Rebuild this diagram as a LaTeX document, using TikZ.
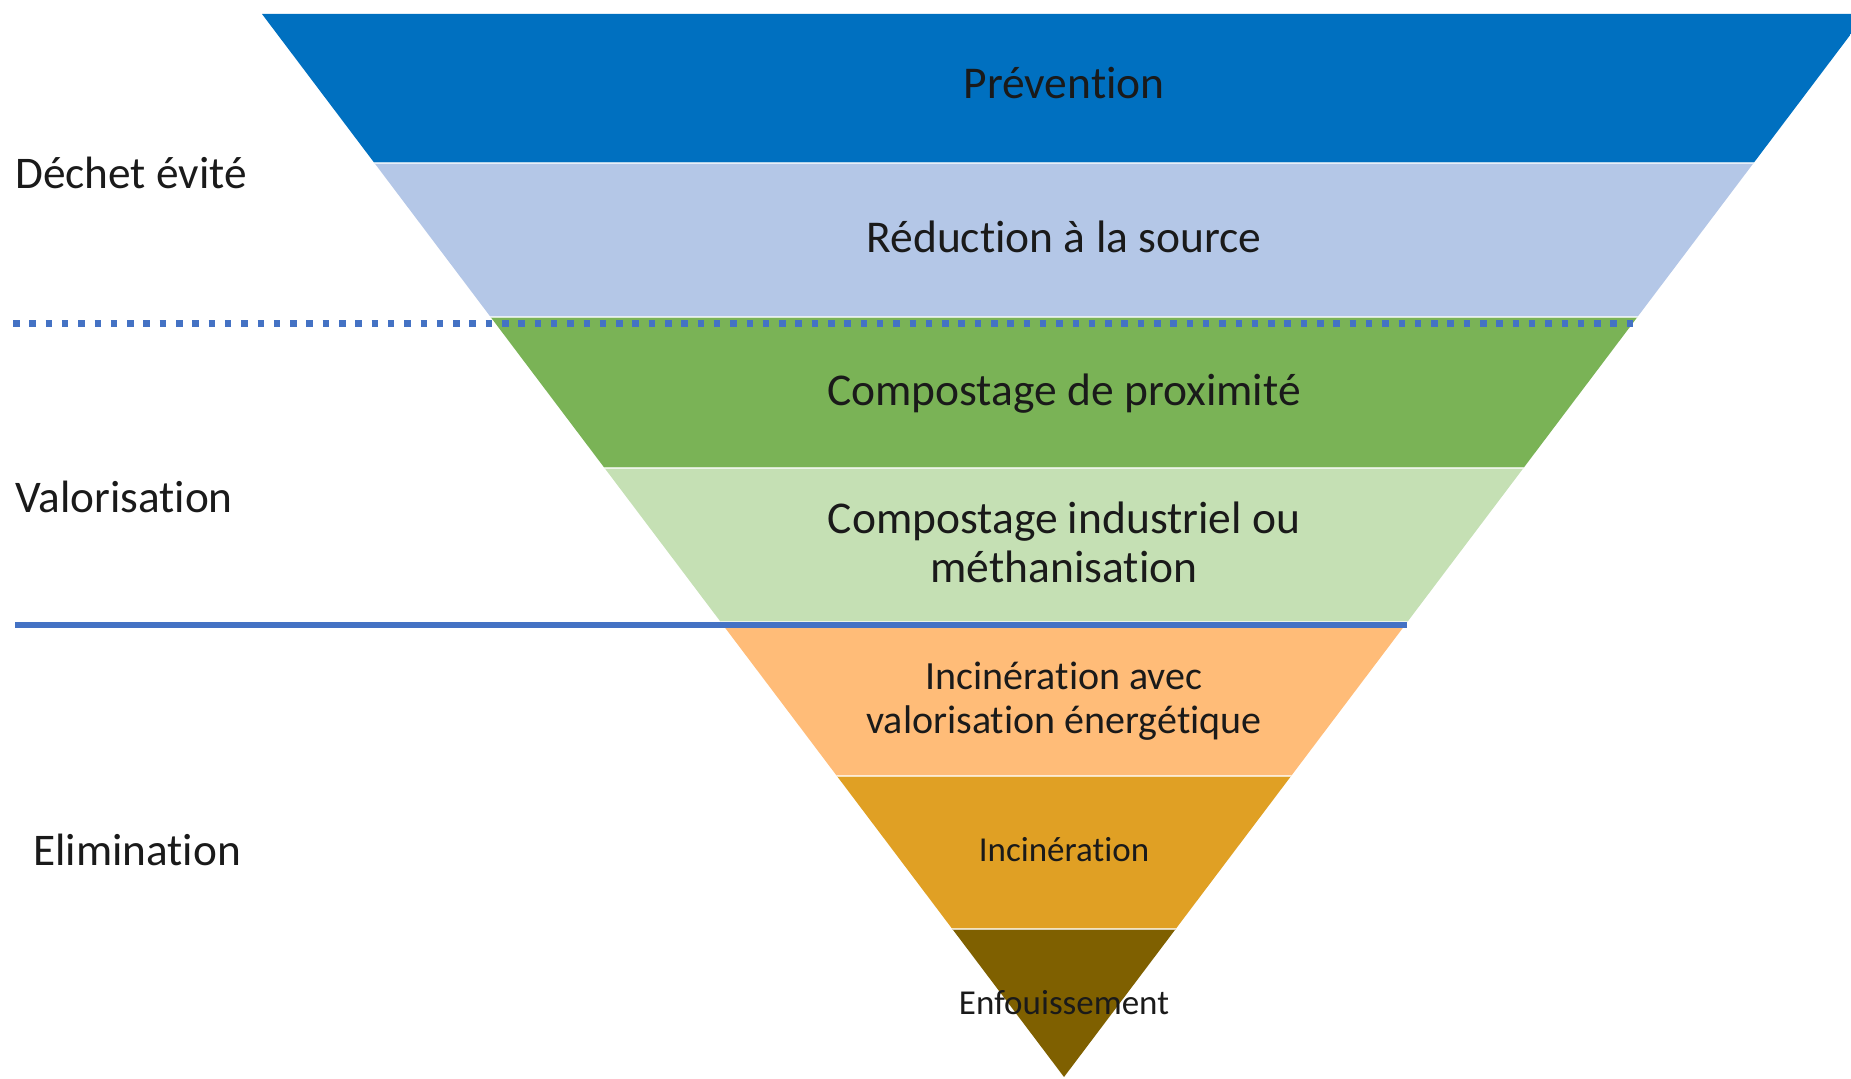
\documentclass[tikz,border=0pt]{standalone}
\usepackage{fontspec}
\setmainfont{Carlito}[Ligatures={NoCommon}]
\definecolor{cPrev}{HTML}{0070C0}
\definecolor{cRed}{HTML}{B4C7E7}
\definecolor{cComp}{HTML}{7AB356}
\definecolor{cInd}{HTML}{C5E0B4}
\definecolor{cIncV}{HTML}{FFBC78}
\definecolor{cInc}{HTML}{E0A024}
\definecolor{cEnf}{HTML}{7F6000}
\definecolor{cLine}{HTML}{4472C4}
\definecolor{cTxt}{HTML}{1A1A1A}
\tikzset{
  bandtxt/.style={anchor=base,text=cTxt,inner sep=0pt,align=center},
  sidetxt/.style={anchor=base west,text=cTxt,inner sep=0pt,font=\fontsize{45.3}{50}\selectfont},
  big/.style={font=\fontsize{45.5}{49}\selectfont},
  mid/.style={font=\fontsize{40}{44}\selectfont},
  small/.style={font=\fontsize{35}{40}\selectfont},
  sep/.style={draw=white,line width=2pt,opacity=0.7}
}
\begin{document}
\begin{tikzpicture}[x=1pt,y=-1pt]
\useasboundingbox (0,0) rectangle (1851,1078);
\clip (0,0) rectangle (1851,1078);
% inverted pyramid
\coordinate (TL) at (262,14);
\coordinate (TR) at (1866,14);
\coordinate (TIP) at (1064,1077);
\begin{scope}
  \clip (TL) -- (TR) -- (TIP) -- cycle;
  \fill[cPrev] (0,0) rectangle (1900,163);
  \fill[cRed] (0,163) rectangle (1900,317);
  \fill[cComp] (0,317) rectangle (1900,468);
  \fill[cInd] (0,468) rectangle (1900,622);
  \fill[cIncV] (0,622) rectangle (1900,776);
  \fill[cInc] (0,776) rectangle (1900,929);
  \fill[cEnf] (0,929) rectangle (1900,1090);
  \draw[sep] (0,163) -- (1900,163);
  \draw[sep] (0,317) -- (1900,317);
  \draw[sep] (0,468) -- (1900,468);
  \draw[sep] (0,622) -- (1900,622);
  \draw[sep] (0,776) -- (1900,776);
  \draw[sep] (0,929) -- (1900,929);
\end{scope}
% separator lines
\coordinate (d1) at (13,323.5);
\coordinate (d2) at (1633,323.5);
\draw[cLine,line width=6.5pt,dash pattern=on 6.5pt off 9.8pt] (d1) -- (d2);
\coordinate (s1) at (15,625);
\coordinate (s2) at (1407,625);
\draw[cLine,line width=5.5pt] (s1) -- (s2);
% band labels
\node[bandtxt,big] (prev) at (1064,99) {Prévention};
\node[bandtxt,big] (red) at (1064,252) {Réduction à la source};
\node[bandtxt,big] (comp) at (1064,405) {Compostage de proximité};
\node[bandtxt,big] (ind1) at (1064,533) {Compostage industriel ou};
\node[bandtxt,big] (ind2) at (1064,582) {méthanisation};
\node[bandtxt,mid] (incv1) at (1064,689) {Incinération avec};
\node[bandtxt,mid] (incv2) at (1064,733) {valorisation énergétique};
\node[bandtxt,small] (inc) at (1064,861) {Incinération};
\node[bandtxt,small] (enf) at (1064,1014) {Enfouissement};
% side labels
\node[sidetxt] (dech) at (15,189) {Déchet évité};
\node[sidetxt] (valo) at (15,512) {Valorisation};
\node[sidetxt] (elim) at (33,865) {Elimination};
\end{tikzpicture}
\end{document}
